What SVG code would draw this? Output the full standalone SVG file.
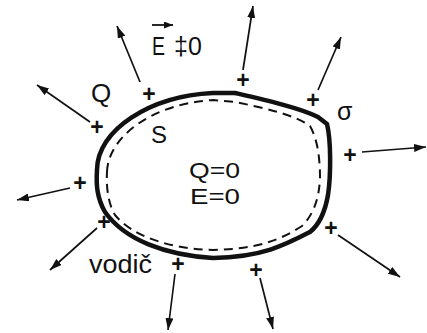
<svg xmlns="http://www.w3.org/2000/svg" width="427" height="333" viewBox="0 0 427 333">
<defs>
<marker id="ah" viewBox="0 0 12 8" refX="12" refY="4" markerWidth="12" markerHeight="8" markerUnits="userSpaceOnUse" orient="auto">
<path d="M0,0 L12,4 L0,8 Z" fill="#111"/>
</marker>
<marker id="ahs" viewBox="0 0 9 7" refX="9" refY="3.5" markerWidth="9" markerHeight="7" markerUnits="userSpaceOnUse" orient="auto">
<path d="M0,0 L9,3.5 L0,7 Z" fill="#111"/>
</marker>
<style>
.t{font-family:"Liberation Sans",Arial,sans-serif;fill:#111}
.p{font-family:"Liberation Sans",Arial,sans-serif;font-weight:bold;font-size:23px;fill:#111;text-anchor:middle}
.a{stroke:#111;stroke-width:1.7;fill:none;marker-end:url(#ah)}
</style>
</defs>
<rect width="427" height="333" fill="#fff"/>
<g id="conductor">
<path d="M 97,170 C 97,130 150,96 213,93 L 235,93 C 265,100 300,108 318,117 L 327,124 C 331,140 331,175 328,195 C 325,212 320,224 310,232 C 285,245 262,257 213,258 C 165,255 125,240 105,212 C 97,198 96,185 97,170 Z" fill="none" stroke="#111" stroke-width="4.5" stroke-linejoin="round"/>
</g>
<g id="surface">
<path d="M 107,172 C 108,138 150,104 213,100 L 235,102 C 265,108 295,115 310,126 C 318,140 320,160 320,178 C 319,200 313,215 302,226 C 280,240 258,249 213,250 C 170,249 132,236 115,215 C 109,205 106,190 107,172 Z" fill="none" stroke="#111" stroke-width="2" stroke-dasharray="9 6"/>
</g>
<g id="connectors">
<line class="a" x1="140" y1="82" x2="117" y2="26"/>
<line class="a" x1="90" y1="122" x2="37" y2="85"/>
<line class="a" x1="243" y1="70" x2="253" y2="6"/>
<line class="a" x1="318" y1="90" x2="341" y2="37"/>
<line class="a" x1="362" y1="152" x2="426" y2="147"/>
<line class="a" x1="338" y1="235" x2="400" y2="277"/>
<line class="a" x1="260" y1="278" x2="273" y2="329"/>
<line class="a" x1="175" y1="274" x2="168" y2="330"/>
<line class="a" x1="97" y1="228" x2="50" y2="270"/>
<line class="a" x1="70" y1="188" x2="17" y2="200"/>
</g>
<g id="charges">
<text class="p" x="149" y="102">+</text>
<text class="p" x="97" y="135">+</text>
<text class="p" x="243" y="88">+</text>
<text class="p" x="313" y="108">+</text>
<text class="p" x="350" y="163">+</text>
<text class="p" x="331" y="236">+</text>
<text class="p" x="256" y="278">+</text>
<text class="p" x="178" y="272">+</text>
<text class="p" x="104" y="230">+</text>
<text class="p" x="80" y="191">+</text>
</g>
<g id="labels">
<g id="field-label">
<line x1="152" y1="25" x2="173" y2="25" stroke="#111" stroke-width="1.8" marker-end="url(#ahs)"/>
<text class="t" x="152" y="55" font-size="25" textLength="13" lengthAdjust="spacingAndGlyphs">E</text>
<text class="t" x="174" y="55" font-size="25">‡0</text>
</g>
<text id="Q" class="t" x="91" y="102" font-size="26">Q</text>
<text id="S" class="t" x="151" y="143" font-size="24">S</text>
<text id="sigma" class="t" x="337" y="120" font-size="25">σ</text>
<text id="Q0" class="t" x="189" y="178" font-size="22" textLength="51" lengthAdjust="spacingAndGlyphs">Q=0</text>
<text id="E0" class="t" x="190" y="204" font-size="22" textLength="50" lengthAdjust="spacingAndGlyphs">E=0</text>
<text id="vodic" class="t" x="89" y="273" font-size="25" textLength="63" lengthAdjust="spacingAndGlyphs">vodič</text>
</g>
</svg>
